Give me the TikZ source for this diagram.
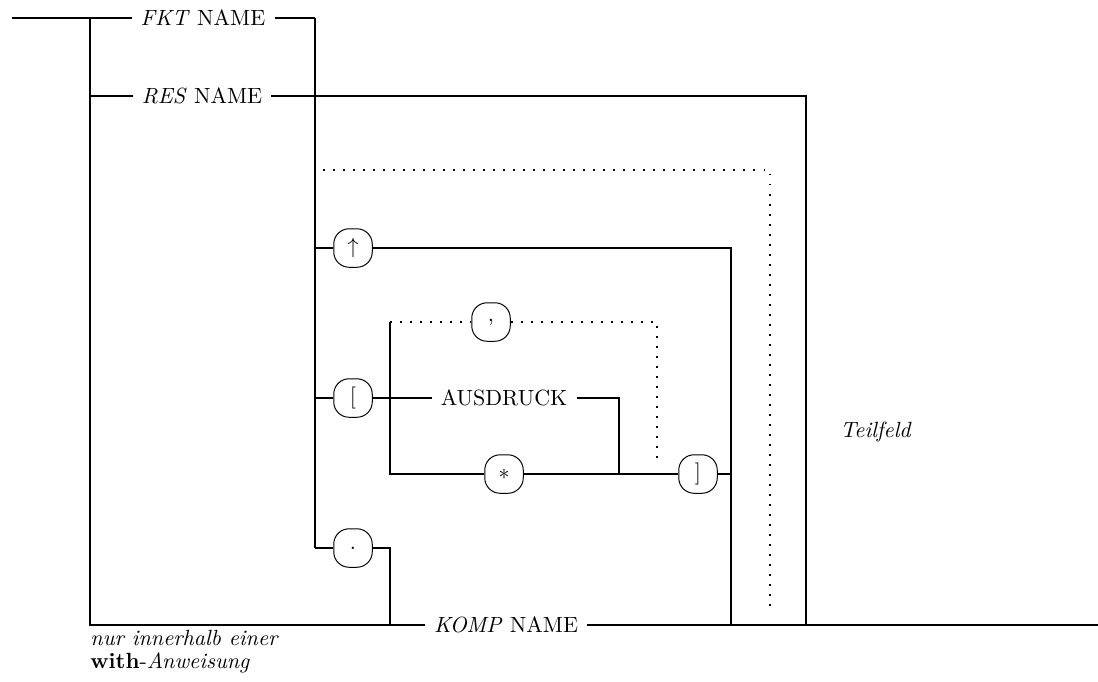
\documentclass[tikz,border=0pt]{standalone}
\begin{document}
\begin{tikzpicture}[x=0.4545pt,y=-0.4545pt,
  ln/.style={line width=0.85pt},
  thk/.style={line width=1.3pt},
  dots/.style={line width=0.9pt, dash pattern=on 0.9pt off 3.65pt},
  term/.style={draw, line width=0.45pt, rounded corners=7pt, minimum width=17.5pt, minimum height=17.5pt, inner sep=0pt},
  lbl/.style={inner xsep=4pt, inner ysep=2pt, text height=6.8pt, text depth=0pt}]
\useasboundingbox (0,0) rectangle (1098,681);
% coordinates
\coordinate (start) at (12,18);
\coordinate (s1) at (90,18);
\coordinate (s2) at (90,625);
\coordinate (sr) at (90,96);
\coordinate (c1) at (315,18);
\coordinate (c2) at (315,548);
\coordinate (cu) at (315,248);
\coordinate (cb) at (315,398);
\coordinate (r1) at (806,96);
\coordinate (r2) at (806,625);
\coordinate (u1) at (731,248);
\coordinate (u2) at (731,625);
\coordinate (u3) at (731,474);
\coordinate (a1) at (619,398);
\coordinate (a2) at (619,474);
\coordinate (l1) at (390,322);
\coordinate (l2) at (390,474);
\coordinate (d1) at (657,322);
\coordinate (d2) at (657,462);
\coordinate (p1) at (390,548);
\coordinate (p2) at (390,625);
\coordinate (e1) at (1098,625);
\coordinate (t1) at (323,170);
\coordinate (t2) at (770,170);
\coordinate (t3) at (770,607);
% text nodes
\node[lbl] (fkt) at (203,18) {\textit{FKT} NAME};
\node[lbl] (res) at (202,96) {\textit{RES} NAME};
\node[lbl] (ausd) at (504,398) {AUSDRUCK};
\node[lbl] (komp) at (506,625) {\textit{KOMP} NAME};
% terminal boxes
\node[term] (up) at (353,248) {$\uparrow$};
\node[term] (lb) at (353,398) {[};
\node[term] (comma) at (491,322) {,};
\node[term] (star) at (504,474) {$*$};
\node[term] (rb) at (698,474) {]};
\node[term] (pt) at (353,548) {.};
% lines
\draw[ln] (start) -- (fkt.west);
\draw[ln] (fkt.east) -- (c1);
\draw[thk] (c1) -- (c2);
\draw[ln] (s1) -- (s2) -- (komp.west);
\draw[ln] (sr) -- (res.west);
\draw[ln] (res.east) -- (r1) -- (r2);
\draw[ln] (komp.east) -- (e1);
\draw[ln] (cu) -- (up.west);
\draw[ln] (up.east) -- (u1) -- (u2);
\draw[ln] (cb) -- (lb.west);
\draw[ln] (lb.east) -- (ausd.west);
\draw[ln] (ausd.east) -- (a1) -- (a2);
\draw[ln] (l1) -- (l2) -- (star.west);
\draw[ln] (star.east) -- (rb.west);
\draw[ln] (rb.east) -- (u3);
\draw[ln] (c2) -- (pt.west);
\draw[ln] (pt.east) -- (p1) -- (p2);
% dotted
\draw[dots] (l1) -- (comma.west);
\draw[dots] (comma.east) -- (d1) -- (d2);
\draw[dots] (t1) -- (t2) -- (t3);
% labels
\node (teil) at (876,432) {\textit{Teilfeld}};
\node[anchor=base west, inner sep=0pt] (nur) at (90,645) {\textit{nur innerhalb einer}};
\node[anchor=base west, inner sep=0pt] (with) at (90,668) {\textbf{with}-\textit{Anweisung}};
\end{tikzpicture}
\end{document}
